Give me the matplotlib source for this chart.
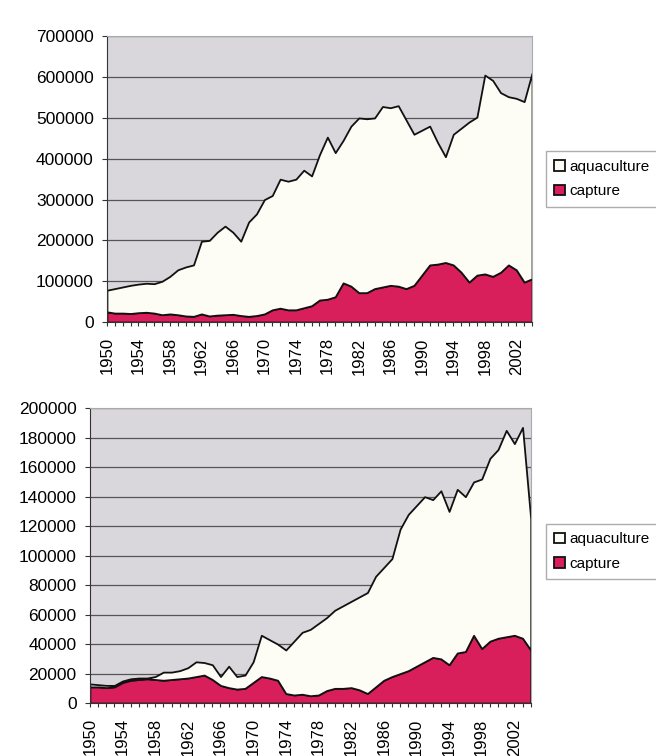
import matplotlib
matplotlib.use('Agg')
import matplotlib.pyplot as plt
import numpy as np

plt.rcParams['font.family'] = ['Liberation Sans', 'DejaVu Sans']

years = list(range(1950, 2005))

# grafico de cima
total_top = [78, 82, 86, 90, 93, 95, 94, 100, 112, 128,
             135, 140, 198, 200, 220, 235, 220, 198, 245, 265,
             300, 310, 350, 345, 350, 372, 358, 410, 453, 415,
             445, 480, 500, 498, 500, 528, 525, 530, 495, 460,
             470, 480, 440, 405, 460, 475, 490, 502, 605, 592,
             562, 552, 548, 540, 610]
capture_top = [25, 22, 22, 21, 23, 24, 22, 18, 20, 18,
               15, 14, 20, 15, 17, 18, 19, 16, 14, 16,
               20, 30, 34, 30, 30, 35, 40, 54, 56, 62,
               96, 88, 72, 72, 82, 86, 90, 88, 82, 90,
               115, 140, 142, 146, 140, 122, 98, 115, 118, 112,
               122, 140, 128, 98, 106]

# grafico de baixo
total_bot = [13, 12.5, 12, 12, 15, 16.5, 17, 17, 18, 21,
             21, 22, 24, 28, 27.5, 26, 18, 25, 18, 19,
             28, 46, 43, 40, 36, 42, 48, 50, 54, 58,
             63, 66, 69, 72, 75, 86, 92, 98, 118, 128,
             134, 140, 138, 144, 130, 145, 140, 150, 152, 166,
             172, 185, 176, 187, 125]
capture_bot = [11, 11, 10.5, 11, 14, 15.5, 16, 16.5, 16, 15.5,
               16, 16.5, 17, 18, 19, 16, 12, 10.5, 9.5, 10,
               14, 18, 17, 15.5, 6.5, 5.5, 6, 5, 5.5, 8.5,
               10, 10, 10.5, 9, 6.5, 11, 15.5, 18, 20, 22,
               25, 28, 31, 30, 26, 34, 35, 46, 37, 42,
               44, 45, 46, 44, 36]

ytop = [0, 100000, 200000, 300000, 400000, 500000, 600000, 700000]
ybot = list(range(0, 200001, 20000))

cor_capture = '#d81e5b'
cor_aqua = '#fdfdf6'
cor_fundo = '#dad7dc'

fig = plt.figure(figsize=(6.56, 7.56), dpi=100)
ax1 = fig.add_axes([0.163, 0.574, 0.648, 0.378])
ax2 = fig.add_axes([0.137, 0.070, 0.672, 0.390])


def desenhar(ax, total, capture, yticks, legend_y):
    cap = np.array(capture) * 1000
    aqua = np.array(total) * 1000 - cap
    ax.stackplot(years, cap, aqua, colors=[cor_capture, cor_aqua],
                 edgecolor='#111111', linewidth=1.3,
                 labels=['capture', 'aquaculture'])
    ax.set_facecolor(cor_fundo)
    ax.set_axisbelow(True)
    ax.set_xlim(1950, 2004)
    ax.set_ylim(yticks[0], yticks[-1])
    ax.set_yticks(yticks)
    ax.set_yticklabels([str(v) for v in yticks], fontsize=12.5)
    ax.set_xticks(range(1950, 2004, 4))
    ax.set_xticklabels([str(y) for y in range(1950, 2004, 4)], rotation=90, fontsize=12)
    ax.set_xticks(years, minor=True)
    ax.tick_params(axis='x', which='both', direction='out', length=3, width=0.8,
                   color='#333333', pad=8)
    ax.tick_params(axis='y', direction='out', length=3.5, width=0.8,
                   color='#333333', pad=6)
    ax.grid(axis='y', color='#555555', linewidth=0.9)
    for s in ['top', 'right']:
        ax.spines[s].set_color('#aaaaaa')
    ax.spines['left'].set_color('#333333')
    ax.spines['bottom'].set_color('#333333')
    handles, labels = ax.get_legend_handles_labels()
    fig.legend(handles[::-1], labels[::-1], loc='upper left',
               bbox_to_anchor=(0.832, legend_y), fontsize=11, frameon=True,
               fancybox=False, edgecolor='#999999', handlelength=0.7,
               handleheight=0.7, handletextpad=0.3, labelspacing=0.7,
               borderpad=0.55, borderaxespad=0)


desenhar(ax1, total_top, capture_top, ytop, 0.80)
desenhar(ax2, total_bot, capture_bot, ybot, 0.307)

plt.savefig('out.png', dpi=100, facecolor='white')
